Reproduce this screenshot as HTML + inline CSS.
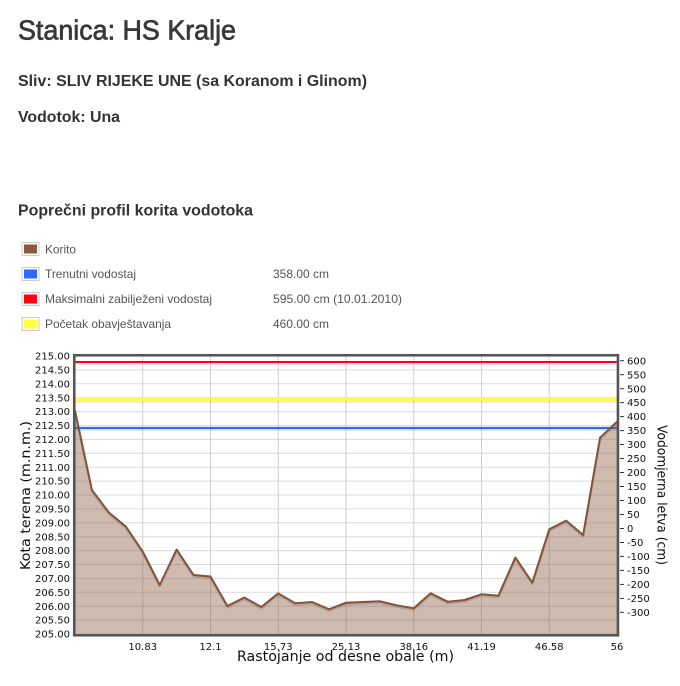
<!DOCTYPE html>
<html>
<head>
<meta charset="utf-8">
<style>
  html,body{margin:0;padding:0;background:#fff;}
  svg{display:block;}
</style>
</head>
<body>
<svg width="680" height="686" viewBox="0 0 680 686" xmlns="http://www.w3.org/2000/svg">
  <rect width="680" height="686" fill="#fff"/>
  <!-- Header texts -->
  <text x="18" y="39.5" font-family="Liberation Sans, sans-serif" font-size="28" fill="#383838" stroke="#383838" stroke-width="0.7" textLength="218" lengthAdjust="spacingAndGlyphs">Stanica: HS Kralje</text>
  <text x="18" y="86" font-family="Liberation Sans, sans-serif" font-size="16" font-weight="bold" fill="#333" textLength="349" lengthAdjust="spacingAndGlyphs">Sliv: SLIV RIJEKE UNE (sa Koranom i Glinom)</text>
  <text x="18" y="122" font-family="Liberation Sans, sans-serif" font-size="16" font-weight="bold" fill="#333" textLength="102" lengthAdjust="spacingAndGlyphs">Vodotok: Una</text>
  <text x="18" y="215.5" font-family="Liberation Sans, sans-serif" font-size="16" font-weight="bold" fill="#333" textLength="235" lengthAdjust="spacingAndGlyphs">Poprečni profil korita vodotoka</text>

  <!-- Legend -->
  <g font-family="Liberation Sans, sans-serif" font-size="12" fill="#555">
    <rect x="22" y="242.5" width="17" height="13" fill="#fff" stroke="#ccc" stroke-width="1"/>
    <rect x="24" y="244.5" width="13" height="9" fill="#8a5a40"/>
    <text x="45" y="253.5" textLength="31" lengthAdjust="spacingAndGlyphs">Korito</text>

    <rect x="22" y="267.5" width="17" height="13" fill="#fff" stroke="#ccc" stroke-width="1"/>
    <rect x="24" y="269.5" width="13" height="9" fill="#2a6aff"/>
    <text x="45" y="278" textLength="91" lengthAdjust="spacingAndGlyphs">Trenutni vodostaj</text>
    <text x="273" y="278" textLength="56" lengthAdjust="spacingAndGlyphs">358.00 cm</text>

    <rect x="22" y="292.5" width="17" height="13" fill="#fff" stroke="#ccc" stroke-width="1"/>
    <rect x="24" y="294.5" width="13" height="9" fill="#ff0018"/>
    <text x="45" y="303" textLength="167" lengthAdjust="spacingAndGlyphs">Maksimalni zabilježeni vodostaj</text>
    <text x="273" y="303" textLength="129" lengthAdjust="spacingAndGlyphs">595.00 cm (10.01.2010)</text>

    <rect x="22" y="317.5" width="17" height="13" fill="#fff" stroke="#ccc" stroke-width="1"/>
    <rect x="24" y="319.5" width="13" height="9" fill="#ffff44"/>
    <text x="45" y="328" textLength="126" lengthAdjust="spacingAndGlyphs">Početak obavještavanja</text>
    <text x="273" y="328" textLength="56" lengthAdjust="spacingAndGlyphs">460.00 cm</text>
  </g>

  <!-- Grid -->
  <g stroke="#dcdcdc" stroke-width="1">
    <line x1="75" x2="617" y1="369.9" y2="369.9"/>
    <line x1="75" x2="617" y1="383.8" y2="383.8"/>
    <line x1="75" x2="617" y1="397.7" y2="397.7"/>
    <line x1="75" x2="617" y1="411.6" y2="411.6"/>
    <line x1="75" x2="617" y1="425.5" y2="425.5"/>
    <line x1="75" x2="617" y1="439.4" y2="439.4"/>
    <line x1="75" x2="617" y1="453.3" y2="453.3"/>
    <line x1="75" x2="617" y1="467.2" y2="467.2"/>
    <line x1="75" x2="617" y1="481.1" y2="481.1"/>
    <line x1="75" x2="617" y1="495" y2="495"/>
    <line x1="75" x2="617" y1="508.9" y2="508.9"/>
    <line x1="75" x2="617" y1="522.8" y2="522.8"/>
    <line x1="75" x2="617" y1="536.7" y2="536.7"/>
    <line x1="75" x2="617" y1="550.6" y2="550.6"/>
    <line x1="75" x2="617" y1="564.5" y2="564.5"/>
    <line x1="75" x2="617" y1="578.4" y2="578.4"/>
    <line x1="75" x2="617" y1="592.3" y2="592.3"/>
    <line x1="75" x2="617" y1="606.2" y2="606.2"/>
    <line x1="75" x2="617" y1="620.1" y2="620.1"/>
  </g>
  <g stroke="#cfcfcf" stroke-width="1">
    <line x1="142.75" x2="142.75" y1="356" y2="634"/>
    <line x1="210.5" x2="210.5" y1="356" y2="634"/>
    <line x1="278.25" x2="278.25" y1="356" y2="634"/>
    <line x1="346" x2="346" y1="356" y2="634"/>
    <line x1="413.75" x2="413.75" y1="356" y2="634"/>
    <line x1="481.5" x2="481.5" y1="356" y2="634"/>
    <line x1="549.25" x2="549.25" y1="356" y2="634"/>
  </g>

  <!-- Threshold lines -->
  <line x1="75" x2="617" y1="364" y2="364" stroke="rgba(0,0,0,0.08)" stroke-width="2"/>
  <line x1="75" x2="617" y1="362" y2="362" stroke="#ff0018" stroke-width="2"/>
  <line x1="75" x2="617" y1="402" y2="402" stroke="rgba(0,0,0,0.08)" stroke-width="2"/>
  <line x1="75" x2="617" y1="399.3" y2="399.3" stroke="#ffff44" stroke-width="3.2"/>
  <line x1="75" x2="617" y1="430" y2="430" stroke="rgba(0,0,0,0.08)" stroke-width="2"/>
  <line x1="75" x2="617" y1="428" y2="428" stroke="#2a6aff" stroke-width="2.2"/>

  <!-- Korito area -->
  <polygon fill="#8a5a40" fill-opacity="0.42" points="75,410.7 91.94,490 108.88,512.5 125.81,526.5 142.75,551.5 159.69,585 176.63,549.5 193.56,575 210.5,576.5 227.44,606 244.38,597.5 261.31,607 278.25,593.3 295.19,603.3 312.13,602 329.06,609.3 346,602.7 362.94,602 379.88,601.3 396.81,605.3 413.75,608.3 430.69,593.3 447.63,601.7 464.56,600 481.5,594.3 498.44,595.7 515.38,557.5 532.31,582.7 549.25,529.3 566.19,520.7 583.13,535 600.06,437.7 617,421.7 617,634 75,634"/>
  <polyline fill="none" stroke="rgba(0,0,0,0.12)" stroke-width="2.5" stroke-linejoin="round" transform="translate(0,1.5)" points="75,410.7 91.94,490 108.88,512.5 125.81,526.5 142.75,551.5 159.69,585 176.63,549.5 193.56,575 210.5,576.5 227.44,606 244.38,597.5 261.31,607 278.25,593.3 295.19,603.3 312.13,602 329.06,609.3 346,602.7 362.94,602 379.88,601.3 396.81,605.3 413.75,608.3 430.69,593.3 447.63,601.7 464.56,600 481.5,594.3 498.44,595.7 515.38,557.5 532.31,582.7 549.25,529.3 566.19,520.7 583.13,535 600.06,437.7 617,421.7"/>
  <polyline fill="none" stroke="#85533a" stroke-width="2" stroke-linejoin="round" points="75,410.7 91.94,490 108.88,512.5 125.81,526.5 142.75,551.5 159.69,585 176.63,549.5 193.56,575 210.5,576.5 227.44,606 244.38,597.5 261.31,607 278.25,593.3 295.19,603.3 312.13,602 329.06,609.3 346,602.7 362.94,602 379.88,601.3 396.81,605.3 413.75,608.3 430.69,593.3 447.63,601.7 464.56,600 481.5,594.3 498.44,595.7 515.38,557.5 532.31,582.7 549.25,529.3 566.19,520.7 583.13,535 600.06,437.7 617,421.7"/>

  <!-- Plot border -->
  <rect x="74.25" y="355.25" width="543.7" height="280" fill="none" stroke="#555" stroke-width="2.6"/>

  <!-- Left axis labels -->
  <g font-family="DejaVu Sans, sans-serif" font-size="10" fill="#111" text-anchor="end">
    <text x="70" y="359.6">215.00</text>
    <text x="70" y="373.5">214.50</text>
    <text x="70" y="387.4">214.00</text>
    <text x="70" y="401.3">213.50</text>
    <text x="70" y="415.2">213.00</text>
    <text x="70" y="429.1">212.50</text>
    <text x="70" y="443">212.00</text>
    <text x="70" y="456.9">211.50</text>
    <text x="70" y="470.8">211.00</text>
    <text x="70" y="484.7">210.50</text>
    <text x="70" y="498.6">210.00</text>
    <text x="70" y="512.5">209.50</text>
    <text x="70" y="526.4">209.00</text>
    <text x="70" y="540.3">208.50</text>
    <text x="70" y="554.2">208.00</text>
    <text x="70" y="568.1">207.50</text>
    <text x="70" y="582">207.00</text>
    <text x="70" y="595.9">206.50</text>
    <text x="70" y="609.8">206.00</text>
    <text x="70" y="623.7">205.50</text>
    <text x="70" y="637.6">205.00</text>
  </g>

  <!-- Right axis ticks and labels -->
  <g stroke="#333" stroke-width="1">
    <line x1="620" x2="624" y1="360.7" y2="360.7"/>
    <line x1="620" x2="624" y1="374.7" y2="374.7"/>
    <line x1="620" x2="624" y1="388.7" y2="388.7"/>
    <line x1="620" x2="624" y1="402.6" y2="402.6"/>
    <line x1="620" x2="624" y1="416.6" y2="416.6"/>
    <line x1="620" x2="624" y1="430.6" y2="430.6"/>
    <line x1="620" x2="624" y1="444.5" y2="444.5"/>
    <line x1="620" x2="624" y1="458.5" y2="458.5"/>
    <line x1="620" x2="624" y1="472.5" y2="472.5"/>
    <line x1="620" x2="624" y1="486.5" y2="486.5"/>
    <line x1="620" x2="624" y1="500.5" y2="500.5"/>
    <line x1="620" x2="624" y1="514.5" y2="514.5"/>
    <line x1="620" x2="624" y1="528.5" y2="528.5"/>
    <line x1="620" x2="624" y1="542.5" y2="542.5"/>
    <line x1="620" x2="624" y1="556.4" y2="556.4"/>
    <line x1="620" x2="624" y1="570.4" y2="570.4"/>
    <line x1="620" x2="624" y1="584.4" y2="584.4"/>
    <line x1="620" x2="624" y1="598.4" y2="598.4"/>
    <line x1="620" x2="624" y1="612.3" y2="612.3"/>
  </g>
  <g font-family="DejaVu Sans, sans-serif" font-size="10" fill="#111" text-anchor="start">
    <text x="627" y="364.3">600</text>
    <text x="627" y="378.3">550</text>
    <text x="627" y="392.3">500</text>
    <text x="627" y="406.2">450</text>
    <text x="627" y="420.2">400</text>
    <text x="627" y="434.2">350</text>
    <text x="627" y="448.1">300</text>
    <text x="627" y="462.1">250</text>
    <text x="627" y="476.1">200</text>
    <text x="627" y="490.1">150</text>
    <text x="627" y="504.1">100</text>
    <text x="627" y="518.1">50</text>
    <text x="627" y="532.1">0</text>
    <text x="627" y="546.1">-50</text>
    <text x="627" y="560">-100</text>
    <text x="627" y="574">-150</text>
    <text x="627" y="588">-200</text>
    <text x="627" y="602">-250</text>
    <text x="627" y="615.9">-300</text>
  </g>

  <!-- X axis labels -->
  <g font-family="DejaVu Sans, sans-serif" font-size="10" fill="#111" text-anchor="middle">
    <text x="142.75" y="650">10.83</text>
    <text x="210.5" y="650">12.1</text>
    <text x="278.25" y="650">15.73</text>
    <text x="346" y="650">25.13</text>
    <text x="413.75" y="650">38.16</text>
    <text x="481.5" y="650">41.19</text>
    <text x="549.25" y="650">46.58</text>
    <text x="617" y="650">56</text>
  </g>

  <!-- Axis titles -->
  <text x="345.5" y="661" font-family="DejaVu Sans, sans-serif" font-size="14" fill="#111" text-anchor="middle" textLength="217" lengthAdjust="spacingAndGlyphs">Rastojanje od desne obale (m)</text>
  <text transform="translate(30,495.5) rotate(-90)" font-family="DejaVu Sans, sans-serif" font-size="13.5" fill="#111" text-anchor="middle" textLength="149" lengthAdjust="spacingAndGlyphs">Kota terena (m.n.m.)</text>
  <text transform="translate(657.5,495) rotate(90)" font-family="DejaVu Sans, sans-serif" font-size="13.5" fill="#111" text-anchor="middle" textLength="140" lengthAdjust="spacingAndGlyphs">Vodomjerna letva (cm)</text>
</svg>
</body>
</html>
